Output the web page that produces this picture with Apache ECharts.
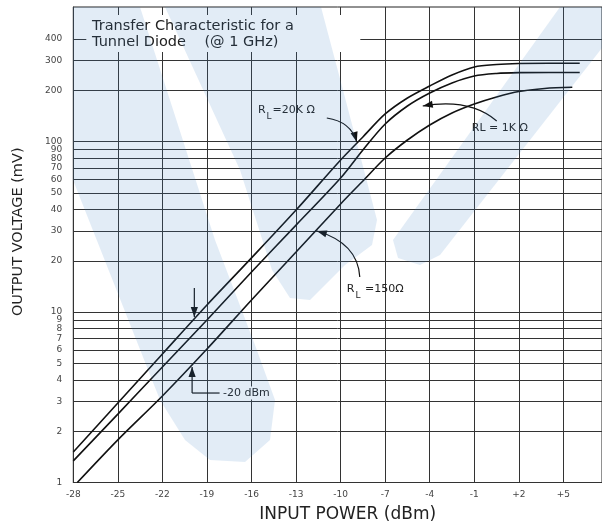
<!DOCTYPE html>
<html><head><meta charset="utf-8">
<script src="https://cdn.jsdelivr.net/npm/echarts@6/dist/echarts.min.js"></script>
<style>html,body{margin:0;padding:0;background:#fff}#c{width:602px;height:524px}</style>
</head><body><div id="c"></div>
<script>
// ---- data (input power in dBm, output voltage in mV) ----
const inputPower = [-28, -25, -22, -19, -16, -13, -10, -8.5, -7, -5.5, -4, -2.5, -1, 0.5, 2, 4, 6.1];
const rl20k = [1.51, 2.93, 5.68, 11.0, 20.8, 39.7, 78.1, 106.6, 145.4, 180.5, 212.3, 246.3, 274.5, 283.9, 287.7, 288.5, 288.5];
const rl1k = [1.34, 2.52, 4.76, 8.99, 17.2, 32.4, 61.2, 89.4, 127.0, 162.0, 193.1, 221.1, 242.9, 251.3, 254.1, 254.7, 254.7];
const inputPower150 = [-27.73, -25, -22, -19, -16, -13, -10, -8.5, -7, -5.5, -4, -2.5, -1, 0.5, 2, 3.74, 5.6];
const rl150 = [1.0, 1.78, 3.22, 6.07, 11.78, 22.5, 43.1, 58.8, 80.2, 102.3, 125.3, 147.4, 166.4, 183.0, 197.1, 205.3, 208.6];
const xTicks = [-28, -25, -22, -19, -16, -13, -10, -7, -4, -1, 2, 5];
const yTicks = [1, 2, 3, 4, 5, 6, 7, 8, 9, 10, 20, 30, 40, 50, 60, 70, 80, 90, 100, 200, 300, 400];
const xRange = [-28, 7.6];
const yRange = [1, 617];
// annotation anchors (data coordinates)
const note20k = { text: [-15.57, 147.4], from: [-10.93, 137.7], ctrl: [-9.3, 131], tip: [-8.91, 99.6] };
const note1k = { text: [-1.17, 120.3], from: [0.51, 132.3], ctrl: [-1.3, 180.5], tip: [-4.47, 162] };
const note150 = { text: [-9.58, 13.1], from: [-8.71, 16.07], ctrl: [-8.84, 25.4], tip: [-11.6, 29.9] };
const markDown = { x: -19.85, from: 13.85, to: 9.36 };
const markUp = { x: -20, from: 3.35, to: 4.76, lineTo: -18.15, textAt: -18.05 };

const FONT = 'DejaVu Sans';
const chart = echarts.init(document.getElementById('c'), null, { renderer: 'canvas' });

function pairs(xs, ys) { return xs.map((x, i) => [x, ys[i]]); }

const gridLineStyle = { color: '#333', width: 1, type: 'solid' };
const markData = [];
xTicks.forEach(v => markData.push({
  xAxis: v,
  label: { formatter: (v > 0 ? '+' : '') + v, position: 'start', distance: 8 }
}));
yTicks.forEach(v => markData.push({
  yAxis: v,
  label: { formatter: String(v), position: 'start', distance: 11 }
}));

const curveStyle = { color: '#111', width: 1.6 };

chart.setOption({
  animation: false,
  backgroundColor: '#fff',
  title: {
    text: 'Transfer Characteristic for a\nTunnel Diode    (@ 1 GHz)',
    left: 92, top: 18, z: 20, padding: 0,
    textStyle: { fontFamily: FONT, fontSize: 14.5, fontWeight: 'normal', color: '#222', lineHeight: 16 }
  },
  grid: { show: true, borderColor: '#222', borderWidth: 1, backgroundColor: 'transparent', left: 73.3, right: 0, top: 7, bottom: 41.5, containLabel: false, outerBoundsMode: 'none' },
  xAxis: {
    type: 'value', min: xRange[0], max: xRange[1],
    name: 'INPUT POWER (dBm)', nameLocation: 'middle', nameGap: 24,
    nameTextStyle: { fontFamily: FONT, fontSize: 17, color: '#222', padding: [0, 0, 0, 20] },
    axisLine: { show: true, onZero: false, lineStyle: { color: '#222', width: 1 } },
    axisTick: { show: false }, axisLabel: { show: false }, splitLine: { show: false }
  },
  yAxis: {
    type: 'log', logBase: 10, min: yRange[0], max: yRange[1],
    name: 'OUTPUT VOLTAGE (mV)', nameLocation: 'middle', nameGap: 48,
    nameTextStyle: { fontFamily: FONT, fontSize: 14.5, color: '#222', padding: [0, 0, 0, 26] },
    axisLine: { show: true, onZero: false, lineStyle: { color: '#222', width: 1 } },
    axisTick: { show: false }, axisLabel: { show: false }, splitLine: { show: false }
  },
  series: [
    {
      type: 'line', name: 'grid', silent: true, data: [[xRange[0], yRange[0]]],
      showSymbol: false, lineStyle: { opacity: 0 },
      markLine: {
        silent: true, symbol: ['none', 'none'], animation: false,
        lineStyle: gridLineStyle,
        label: { fontFamily: FONT, fontSize: 9, color: '#444' },
        emphasis: { disabled: true },
        data: markData
      }
    },
    { type: 'line', name: 'RL=20KΩ', data: pairs(inputPower, rl20k), smooth: 0.3, showSymbol: false, lineStyle: curveStyle, z: 5 },
    { type: 'line', name: 'RL=1KΩ', data: pairs(inputPower, rl1k), smooth: 0.3, showSymbol: false, lineStyle: curveStyle, z: 5 },
    { type: 'line', name: 'RL=150Ω', data: pairs(inputPower150, rl150), smooth: 0.3, showSymbol: false, lineStyle: curveStyle, z: 5 }
  ]
});

// ---- annotations, positioned through the chart's own coordinate conversion ----
const P = d => chart.convertToPixel({ gridIndex: 0 }, d);
function head(tip, from, len, half) {
  const dx = tip[0] - from[0], dy = tip[1] - from[1], d = Math.hypot(dx, dy);
  const ux = dx / d, uy = dy / d;
  const b = [tip[0] - ux * len, tip[1] - uy * len];
  return {
    type: 'polygon', z: 30, silent: true,
    shape: { points: [tip, [b[0] - uy * half, b[1] + ux * half], [b[0] + uy * half, b[1] - ux * half]] },
    style: { fill: '#111' }
  };
}
function curvedArrow(n) {
  const a = P(n.from), c = P(n.ctrl), t = P(n.tip);
  return [
    { type: 'bezierCurve', z: 30, silent: true,
      shape: { x1: a[0], y1: a[1], cpx1: c[0], cpy1: c[1], x2: t[0], y2: t[1] },
      style: { stroke: '#111', lineWidth: 1.2, fill: null } },
    head(t, c, 10, 3.6)
  ];
}
function subLabel(pos, main, sub, rest) {
  return {
    type: 'text', z: 30, silent: true, x: pos[0], y: pos[1],
    style: {
      text: '{a|' + main + '}{b|' + sub + '}{a|' + rest + '}',
      verticalAlign: 'middle', align: 'left',
      rich: {
        a: { fontFamily: FONT, fontSize: 11, fill: '#222', lineHeight: 16, verticalAlign: 'top' },
        b: { fontFamily: FONT, fontSize: 9, fill: '#222', lineHeight: 16, verticalAlign: 'bottom', padding: [7, 1, 0, 1] }
      },
      fontFamily: FONT, fontSize: 11, fill: '#222'
    }
  };
}
const g = [];
// plot-area box that hides grid lines behind the title
const ptl = P([xRange[0], yRange[1]]);
g.push({ type: 'rect', z: 15, silent: true, shape: { x: ptl[0] + 13, y: ptl[1] + 8, width: 274, height: 37 }, style: { fill: '#fff' } });
g.push(...curvedArrow(note20k), ...curvedArrow(note1k), ...curvedArrow(note150));
g.push(subLabel(P(note20k.text), 'R', 'L', '=20K Ω'));
g.push(subLabel(P(note150.text), 'R', 'L', ' =150Ω'));
const t1 = P(note1k.text);
g.push({ type: 'text', z: 30, silent: true, x: t1[0], y: t1[1],
  style: { text: 'RL = 1K Ω', fontFamily: FONT, fontSize: 11, fill: '#222', verticalAlign: 'middle' } });
// -20 dBm markers
const d0 = P([markDown.x, markDown.from]), d1 = P([markDown.x, markDown.to]);
g.push({ type: 'line', z: 30, silent: true, shape: { x1: d0[0], y1: d0[1], x2: d1[0], y2: d1[1] }, style: { stroke: '#111', lineWidth: 1.2 } });
g.push(head(d1, d0, 10, 3.6));
const u0 = P([markUp.x, markUp.from]), u1 = P([markUp.x, markUp.to]), u2 = P([markUp.lineTo, markUp.from]), u3 = P([markUp.textAt, markUp.from]);
g.push({ type: 'line', z: 30, silent: true, shape: { x1: u0[0], y1: u0[1], x2: u1[0], y2: u1[1] }, style: { stroke: '#111', lineWidth: 1.2 } });
g.push(head(u1, u0, 10, 3.6));
g.push({ type: 'line', z: 30, silent: true, shape: { x1: u0[0], y1: u0[1], x2: u2[0], y2: u2[1] }, style: { stroke: '#111', lineWidth: 1.2 } });
g.push({ type: 'text', z: 30, silent: true, x: u3[0], y: u3[1],
  style: { text: '-20 dBm', fontFamily: FONT, fontSize: 11, fill: '#222', verticalAlign: 'middle', backgroundColor: '#fff', padding: [1, 2, 1, 2] } });
// faint background logo watermark
const wm = { fill: '#3f7fc4', opacity: 0.15 };
[
  [[73,7],[140,7],[215,240],[255,345],[275,400],[270,440],[245,462],[210,460],[185,440],[160,400],[73,180]],
  [[165,7],[321,7],[343,90],[377,220],[372,245],[345,265],[310,300],[290,298],[272,270],[240,170]],
  [[560,7],[602,7],[602,48],[440,255],[420,265],[398,258],[393,240]]
].forEach(pts => g.push({ type: 'polygon', z: 50, silent: true, shape: { points: pts }, style: wm }));
chart.setOption({ graphic: g });
</script>
</body></html>
